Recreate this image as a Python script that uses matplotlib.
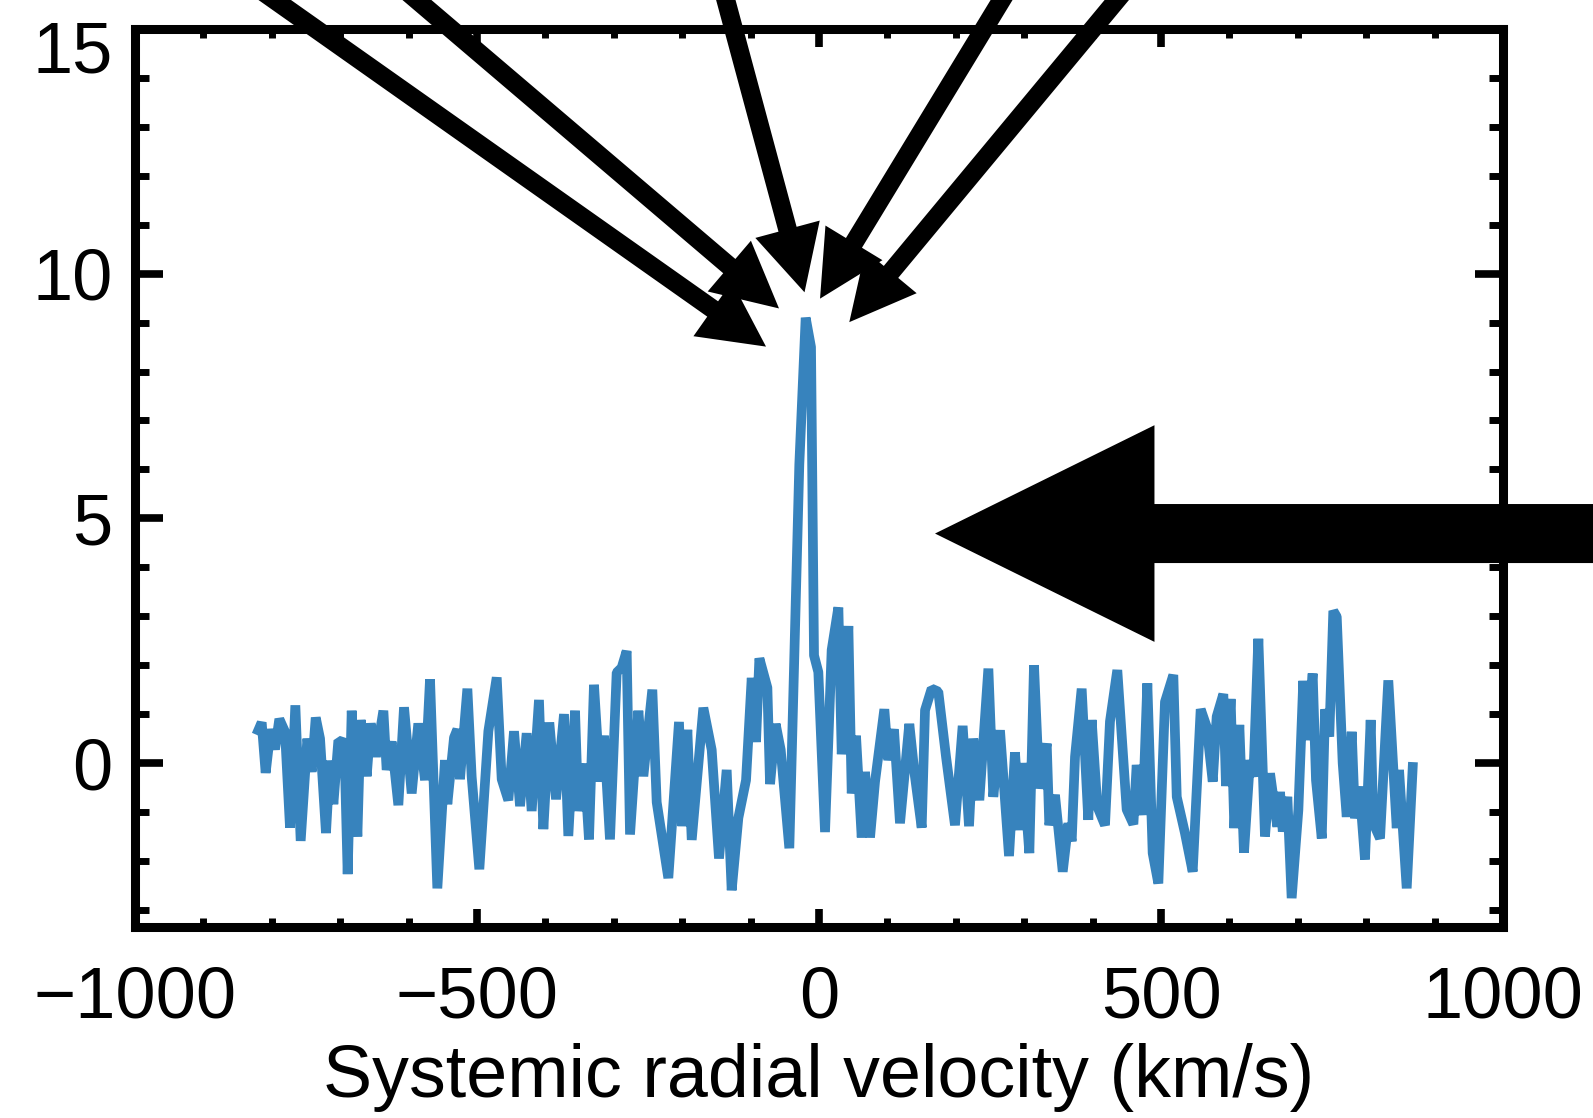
import matplotlib
matplotlib.use('Agg')
import matplotlib.pyplot as plt
from matplotlib.patches import FancyArrowPatch, ArrowStyle
from matplotlib.ticker import MultipleLocator
from matplotlib.transforms import ScaledTranslation

plt.rcParams['font.family'] = ['Liberation Sans', 'DejaVu Sans']

# spectrum: velocity (km/s) and flux density
velocity = [
    -819.7, -814.8, -809.0, -801.7, -795.3, -789.0, -780.7, -773.4, -765.6, -757.8,
    -748.0, -741.7, -735.8, -729.5, -720.8, -714.9, -710.0, -702.7, -694.0, -689.1,
    -683.2, -674.9, -670.1, -661.3, -655.4, -647.7, -636.9, -632.1, -624.8, -615.0,
    -606.7, -595.5, -585.8, -576.0, -568.7, -558.0, -546.8,
    -543.4, -533.6, -528.7, -524.9, -514.1, -507.8, -496.6, -483.4, -471.2, -463.9,
    -454.2, -445.9, -437.1, -427.4, -420.1, -409.4, -403.0, -394.3, -384.5, -372.8,
    -366.5, -356.7, -351.9, -343.1, -336.3, -329.0, -320.2, -314.3, -305.6, -295.8,
    -288.5, -281.2, -276.3, -264.1,
    -256.8, -243.7, -237.3, -220.3, -204.7, -199.8, -192.5, -186.1, -169.1, -156.9,
    -146.2, -135.0, -127.7, -117.9, -106.7, -98.4, -92.1, -87.2, -75.5, -71.6,
    -63.4, -56.0, -43.4, -28.8, -19.5, -11.7, -7.3, -1.0, 8.8,
    18.5, 28.3, 33.2, 42.9, 47.8, 54.1, 62.4, 67.3, 74.6, 81.9,
    95.5, 101.3, 109.6, 118.4, 132.0, 139.4, 150.1, 155.0, 164.7, 174.4,
    185.7, 198.8, 210.0, 219.3, 225.6, 234.4, 247.6, 254.8, 264.6, 277.8, 286.5,
    293.9, 297.8, 307.5, 314.3, 322.1, 332.9, 336.7, 345.0, 356.3, 364.5,
    369.4, 374.3, 384.0, 393.7, 398.6, 406.9, 418.1, 425.4, 436.1, 449.8,
    459.6, 464.4, 473.2, 480.0, 487.8, 496.1, 505.8, 518.0, 523.0, 535.0,
    546.3, 558.0, 566.8,
    575.6, 581.4, 591.1, 595.0, 601.8, 607.2, 614.5, 621.3, 630.1, 635.0,
    642.3, 652.0, 659.4, 670.0, 674.0, 678.0, 684.7, 691.0, 700.8, 708.0,
    713.0, 721.7, 726.6, 735.0, 739.8, 746.0, 751.9, 756.9, 765.6, 771.5,
    778.8, 783.6, 790.0, 798.2, 806.5, 810.4, 820.2, 832.3, 844.6, 848.0,
    859.2, 868.0,
]
flux = [
    0.67, 0.83, -0.20, 0.69, 0.28, 0.90, 0.64, -1.32, 1.18, -1.59,
    0.50, -0.18, 0.93, 0.50, -1.43, 0.05, -0.84, 0.46, 0.42, -2.27,
    1.07, -1.50, 0.88, -0.27, 0.81, 0.13, 1.07, -0.14, 0.44, -0.86,
    1.14, -0.62, 0.81, -0.35, 1.71, -2.56, 0.06,
    -0.84, 0.52, 0.69, -0.33, 1.52, -0.28, -2.17, 0.65, 1.75, -0.33,
    -0.76, 0.65, -0.88, 0.61, -0.98, 1.29, -1.35, 0.83, -0.74, 1.00,
    -1.49, 1.07, -0.98, -0.01, -1.56, 1.60, -0.38, 0.56, -1.56, 1.85,
    1.95, 2.29, -1.46, 1.07,
    -0.27, 1.50, -0.80, -2.35, 0.84, -1.29, 0.68, -1.57, 1.13, 0.27,
    -1.95, -0.14, -2.60, -1.12, -0.35, 1.74, 0.43, 2.14, 1.54, -0.43,
    0.80, 0.27, -1.74, 6.10, 9.10, 8.50, 2.20, 1.86, -1.41,
    2.31, 3.18, 0.18, 2.80, -0.62, 0.56, -1.52, -0.18, -1.52, -0.38,
    1.10, 0.06, 0.69, -1.23, 0.80, -0.18, -1.32, 1.08, 1.52, 1.46,
    0.13, -1.27, 0.76, -1.29, 0.50, -0.76, 1.93, -0.69, 0.67, -1.90, 0.22,
    -1.37, 0.00, -1.84, 2.00, -0.52, 0.40, -1.27, -0.65, -2.22, -1.23,
    -1.60, 0.13, 1.52, -1.16, 0.88, -0.89, -1.27, 0.85, 1.90, -0.95,
    -1.25, -0.04, -1.06, 1.63, -1.84, -2.46, 1.25, 1.80, -0.69, -1.43,
    -2.22, 1.10, 0.74,
    -0.38, 0.95, 1.41, -0.47, 1.31, -1.33, 0.78, -1.83, 0.06, -0.28,
    2.54, -1.50, -0.21, -1.30, -0.59, -1.40, -0.69, -2.76, -0.96, 1.68,
    0.47, 1.83, -0.35, -1.54, 1.10, 0.54, 3.11, 2.99, 0.00, -1.10,
    0.64, -1.13, -0.48, -1.97, 0.88, -1.23, -1.54, 1.69, -1.33, -0.14,
    -2.56, -0.08,
]

x_ticks = [-1000, -500, 0, 500, 1000]
y_ticks = [0, 5, 10, 15]

# pointer arrows converging on the line peak (data units)
ptr_tail_x = [-876.6, -654.8, -151.6, 301.6, 482.7]
ptr_tail_y = [16.39, 16.39, 16.39, 16.39, 16.39]
ptr_tip_x = [-77.5, -58.5, -21.2, 1.5, 44.3]
ptr_tip_y = [8.51, 9.29, 9.62, 9.49, 9.01]

# big horizontal arrow coming in from the right
big_tail = (1288.0, 4.69)
big_tip = (169.6, 4.69)

fig = plt.figure(figsize=(15.93, 11.18), dpi=100)
ax = fig.add_axes([0.08475, 0.17084, 0.85876, 0.80322])

ax.plot(velocity, flux, color='#3783bd', lw=7, solid_joinstyle='bevel', zorder=3)

ax.set_xticks(x_ticks)
ax.set_yticks(y_ticks, labels=[str(v) for v in y_ticks])
ax.xaxis.set_minor_locator(MultipleLocator(100))
ax.yaxis.set_minor_locator(MultipleLocator(1))

ax.tick_params(axis='x', which='major', direction='in', length=13, width=5.5,
               top=True, bottom=True, labelsize=52, pad=28)
ax.tick_params(axis='x', which='minor', direction='in', length=6.5, width=5,
               top=True, bottom=True)
ax.tick_params(axis='y', which='major', direction='in', length=20, width=5.5,
               left=True, right=True, labelsize=52, pad=16)
ax.tick_params(axis='y', which='minor', direction='in', length=10, width=5,
               left=True, right=True)
for sp in ax.spines.values():
    sp.set_linewidth(6.5)

ax.set_xlabel('Systemic radial velocity (km/s)', fontsize=53, labelpad=7)

# keep the top label inside the figure
top_lbl = ax.yaxis.get_major_ticks()[-1].label1
top_lbl.set_transform(top_lbl.get_transform()
                      + ScaledTranslation(0, -0.17, fig.dpi_scale_trans))

small_style = ArrowStyle.Simple(head_length=47, head_width=48, tail_width=13.5)
for tx, ty, hx, hy in zip(ptr_tail_x, ptr_tail_y, ptr_tip_x, ptr_tip_y):
    arr = FancyArrowPatch((tx, ty), (hx, hy), arrowstyle=small_style,
                          mutation_scale=1, shrinkA=0, shrinkB=0,
                          color='black', lw=0, clip_on=False, zorder=6)
    ax.add_patch(arr)

big_style = ArrowStyle.Simple(head_length=158, head_width=156, tail_width=42.5)
big = FancyArrowPatch(big_tail, big_tip, arrowstyle=big_style,
                      mutation_scale=1, shrinkA=0, shrinkB=0,
                      color='black', lw=0, clip_on=False, zorder=6)
ax.add_patch(big)

ax.set_xlim(-1000, 1000)
ax.set_ylim(-3.35, 15)

fig.savefig('out.png', dpi=100)
